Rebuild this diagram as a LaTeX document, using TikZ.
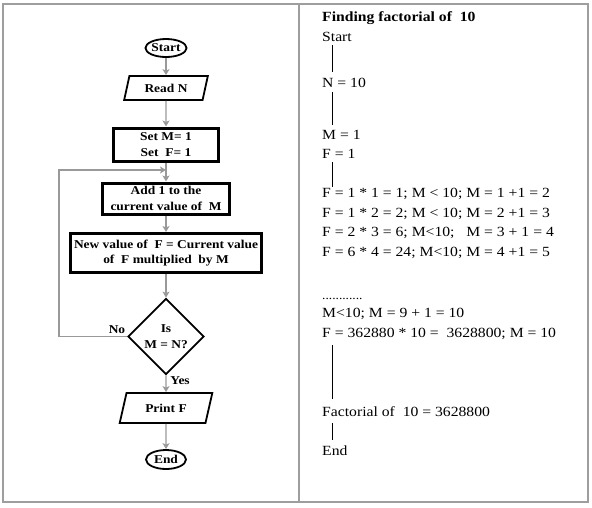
\documentclass[tikz,border=0pt]{standalone}
\usepackage{fontspec}
\setmainfont{Liberation Serif}[FakeStretch=1.12]
\usetikzlibrary{shapes.geometric,arrows.meta}
\begin{document}
\begin{tikzpicture}[x=1pt,y=-1pt,
  frame/.style={draw=black!38,line width=1.1pt},
  arr/.style={draw=black!40,line width=1.1pt,-{Stealth[length=6pt,width=7pt,inset=1.5pt]}},
  plain/.style={draw=black!40,line width=1.1pt},
  term/.style={ellipse,draw,line width=1.8pt,inner sep=0pt,font=\bfseries\fontsize{12}{14}\selectfont},
  io/.style={trapezium,draw,line width=1.8pt,trapezium stretches=true,inner sep=0pt,font=\bfseries\fontsize{12}{14}\selectfont},
  proc/.style={rectangle,draw,line width=3pt,inner sep=0pt,align=center,font=\bfseries\fontsize{12}{16}\selectfont},
  dec/.style={diamond,draw,line width=1.8pt,inner sep=0pt,aspect=1,align=center,font=\bfseries\fontsize{12}{16}\selectfont},
  lbl/.style={inner sep=0pt,font=\bfseries\fontsize{12}{14}\selectfont},
  txt/.style={anchor=base west,inner sep=0pt,font=\fontsize{14}{16}\selectfont},
  vline/.style={draw=black,line width=0.9pt}]
\useasboundingbox (0,0) rectangle (592,507);
% frame
\draw[frame] (3,4) rectangle (588,502);
\draw[frame] (299,4) -- (299,502);

% flowchart
\node[term,minimum width=41pt,minimum height=18pt] (start) at (166,48) {Start};
\node[io,trapezium left angle=70,trapezium right angle=110,minimum width=84pt,minimum height=24pt] (read) at (166,88) {Read N};
\node[proc,minimum width=105pt,minimum height=33pt] (set) at (166,144.5) {Set M= 1\\Set\ \ F= 1};
\node[proc,minimum width=127pt,minimum height=31pt] (add) at (166,198.5) {Add 1 to the\\current value of\ \ M};
\node[proc,minimum width=191pt,minimum height=39pt,font=\bfseries\fontsize{12}{15}\selectfont] (newf) at (166,253) {New value of\ \ F = Current value\\of\ \ F multiplied\ \ by M};
\node[dec,minimum size=76pt] (decide) at (166,336.5) {Is\\M = N?};
\node[io,trapezium left angle=67,trapezium right angle=113,minimum width=93pt,minimum height=30pt] (print) at (166,408) {Print F};
\node[term,minimum width=40pt,minimum height=19pt] (end) at (166,459.5) {End};

\coordinate (join) at (166,170);
\coordinate (loopc) at (59,336.5);

\draw[arr] (start) -- (read);
\draw[arr] (read) -- (set);
\draw[arr] (set) -- (add);
\draw[arr] (add) -- (newf);
\draw[arr] (newf) -- (decide);
\draw[arr] (decide) -- (print);
\draw[arr] (print) -- (end);
\draw[arr] (decide.west) -- (loopc) |- (join);

\node[lbl] (no) at (117,330) {No};
\node[lbl] (yes) at (180,381) {Yes};

% right column
\node[txt,font=\bfseries\fontsize{14}{16}\selectfont] (head) at (322,21) {Finding factorial of\ \ 10};
\node[txt] (t1) at (322,41) {Start};
\node[txt] (t2) at (322,87) {N = 10};
\node[txt] (t3) at (322,139) {M = 1};
\node[txt] (t4) at (322,158) {F = 1};
\node[txt] (t5) at (322,197) {F = 1 * 1 = 1; M < 10; M = 1 +1 = 2};
\node[txt] (t6) at (322,217) {F = 1 * 2 = 2; M < 10; M = 2 +1 = 3};
\node[txt] (t7) at (322,236) {F = 2 * 3 = 6; M<10;\ \ \ M = 3 + 1 = 4};
\node[txt] (t8) at (322,256) {F = 6 * 4 = 24; M<10; M = 4 +1 = 5};
\node[txt,font=\fontsize{12}{14}\selectfont] (t9) at (322,299) {............};
\node[txt] (t10) at (322,317) {M<10; M = 9 + 1 = 10};
\node[txt] (t11) at (322,337) {F = 362880 * 10 =\ \ 3628800; M = 10};
\node[txt] (t12) at (322,416) {Factorial of\ \ 10 = 3628800};
\node[txt] (t13) at (322,455) {End};

\draw[vline] (332,45) -- (332,72);
\draw[vline] (332,92) -- (332,125);
\draw[vline] (332,162) -- (332,187);
\draw[vline] (332,345) -- (332,399);
\draw[vline] (332,423) -- (332,440);
\end{tikzpicture}
\end{document}
